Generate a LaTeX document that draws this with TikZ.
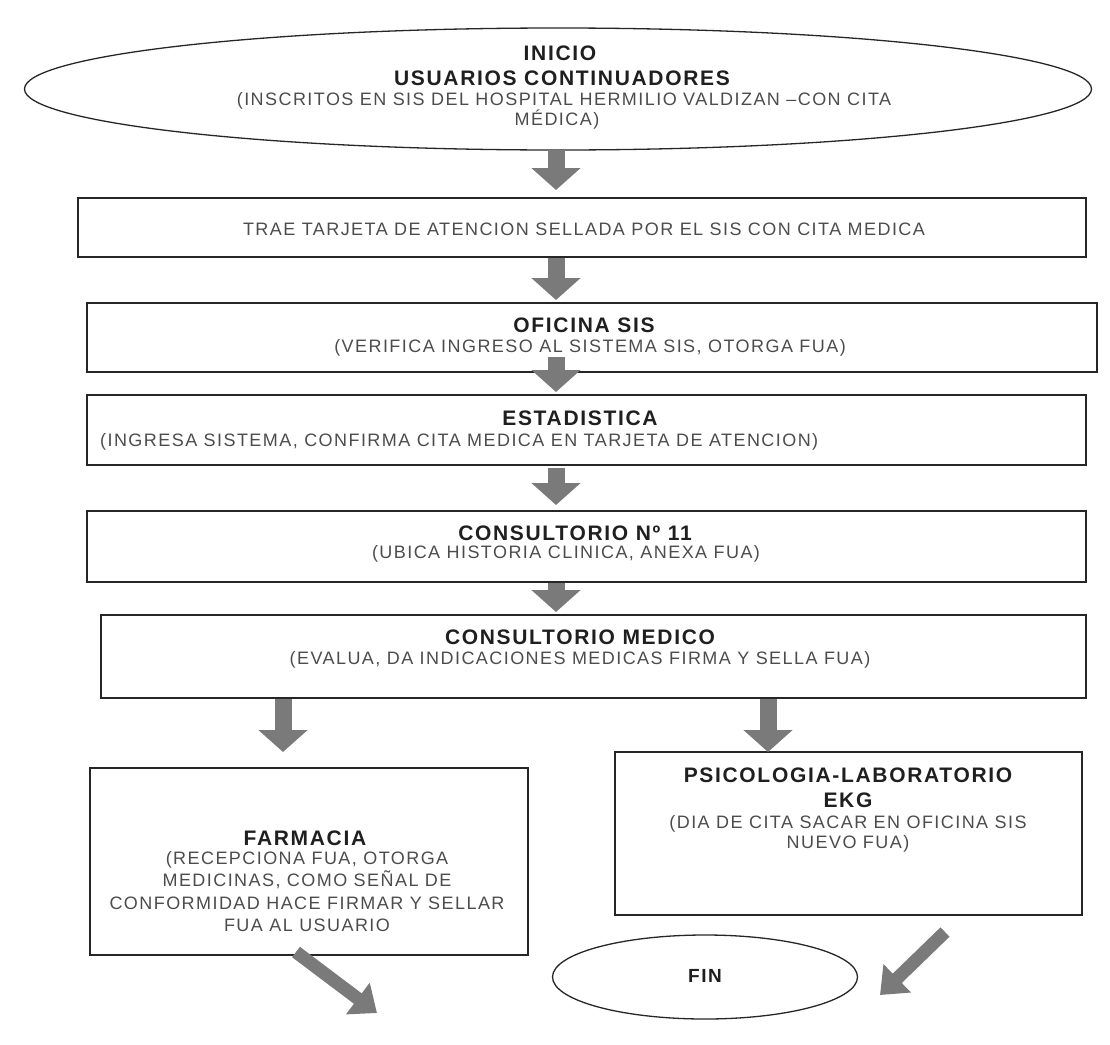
\documentclass[tikz,border=0pt]{standalone}
\usepackage{fontspec}
\setmainfont{Liberation Sans}
\newfontfamily\spacedsans{Liberation Sans}[LetterSpace=8]
\usetikzlibrary{arrows.meta, positioning, shapes.geometric}
\definecolor{lineGray}{gray}{0.15}
\definecolor{arrowGray}{gray}{0.48}
\definecolor{textDark}{gray}{0.12}
\definecolor{textSub}{gray}{0.3}

\tikzset{
  stepbox/.style={draw=lineGray, line width=1.4pt, rectangle, inner sep=0pt},
  endcap/.style={draw=lineGray, line width=1.3pt, ellipse, inner sep=0pt},
  ttl/.style={font=\spacedsans\fontsize{21}{23}\selectfont\bfseries, text=textDark, inner sep=0pt},
  sub/.style={font=\spacedsans\fontsize{18}{21}\selectfont, text=textSub, inner sep=0pt, align=center},
  bigarrow/.style={draw=arrowGray, line width=17pt, -{Triangle[width=48pt,length=22pt]}},
  diagarrow/.style={draw=arrowGray, line width=13pt, -{Triangle[width=38pt,length=24pt]}},
}

\begin{document}
\begin{tikzpicture}[x=1pt, y=-1pt]
    \useasboundingbox (0,0) rectangle (1110,1044);

    % start and end
    \node[endcap, minimum width=1067pt, minimum height=122pt] (ini) at (558,89) {};
    \node[endcap, minimum width=305pt, minimum height=84pt] (fin) at (705,977) {};

    % boxes
    \node[stepbox, minimum width=1008pt, minimum height=59pt] (trae) at (582,227.5) {};
    \node[stepbox, minimum width=1010pt, minimum height=69pt] (sis) at (592,337.5) {};
    \node[stepbox, minimum width=999pt, minimum height=70pt] (est) at (586.5,430) {};
    \node[stepbox, minimum width=999pt, minimum height=71pt] (cons) at (586.5,546.5) {};
    \node[stepbox, minimum width=985pt, minimum height=83pt] (med) at (593.5,656.5) {};
    \node[stepbox, minimum width=438pt, minimum height=187pt] (farm) at (309,861.5) {};
    \node[stepbox, minimum width=467pt, minimum height=163pt] (psi) at (848.5,833.5) {};

    % texts
    \node[ttl] (iniA) at (560,53) {INICIO};
    \node[ttl] (iniB) at (562,78) {USUARIOS CONTINUADORES};
    \node[sub] (iniC) at (564,101) {(INSCRITOS EN SIS DEL HOSPITAL HERMILIO VALDIZAN –CON CITA};
    \node[sub] (iniD) at (557,120) {MÉDICA)};
    \node[sub] (traeT) at (584,229) {TRAE TARJETA DE ATENCION SELLADA POR EL SIS CON CITA MEDICA};
    \node[ttl] (sisA) at (584,325) {OFICINA SIS};
    \node[sub] (sisB) at (590,348) {(VERIFICA INGRESO AL SISTEMA SIS, OTORGA FUA)};
    \node[ttl] (estA) at (580,418) {ESTADISTICA};
    \node[sub, anchor=west] (estB) at (100,442) {(INGRESA SISTEMA, CONFIRMA CITA MEDICA EN TARJETA DE ATENCION)};
    \node[ttl] (consA) at (575,533) {CONSULTORIO Nº 11};
    \node[sub] (consB) at (566,554) {(UBICA HISTORIA CLINICA, ANEXA FUA)};
    \node[ttl] (medA) at (580,637) {CONSULTORIO MEDICO};
    \node[sub] (medB) at (580,660) {(EVALUA, DA INDICACIONES MEDICAS FIRMA Y SELLA FUA)};
    \node[ttl] (farmA) at (305,838) {FARMACIA};
    \node[sub, anchor=north, font=\spacedsans\fontsize{18}{22.5}\selectfont] (farmB) at (307,851) {(RECEPCIONA FUA, OTORGA\\MEDICINAS, COMO SEÑAL DE\\CONFORMIDAD HACE FIRMAR Y SELLAR\\FUA AL USUARIO};
    \node[ttl] (psiA) at (848,775) {PSICOLOGIA-LABORATORIO};
    \node[ttl] (psiB) at (848,800) {EKG};
    \node[sub, anchor=north, font=\spacedsans\fontsize{18}{20.5}\selectfont] (psiC) at (848,815) {(DIA DE CITA SACAR EN OFICINA SIS\\NUEVO FUA)};
    \node[ttl, font=\spacedsans\fontsize{19}{21}\selectfont\bfseries] (finT) at (705,976) {FIN};

    % arrow ends
    \coordinate (axis) at (556,150);
    \coordinate (aL) at (283,752);
    \coordinate (aR) at (768,752);
    \coordinate (dLs) at (296,952);
    \coordinate (dLe) at (377,1013);
    \coordinate (dRs) at (945,932);
    \coordinate (dRe) at (880,995);

    % arrows
    \draw[bigarrow] (axis) -- (axis |- 0,190);
    \draw[bigarrow] (axis |- trae.south) -- (axis |- 0,300);
    \draw[bigarrow] (axis |- 0,357) -- (axis |- 0,392);
    \draw[bigarrow] (axis |- 0,468) -- (axis |- 0,505);
    \draw[bigarrow] (axis |- cons.south) -- (axis |- 0,612);
    \draw[bigarrow] (med.south -| aL) -- (aL);
    \draw[bigarrow] (med.south -| aR) -- (aR);
    \draw[diagarrow] (dLs) -- (dLe);
    \draw[diagarrow] (dRs) -- (dRe);
\end{tikzpicture}
\end{document}
